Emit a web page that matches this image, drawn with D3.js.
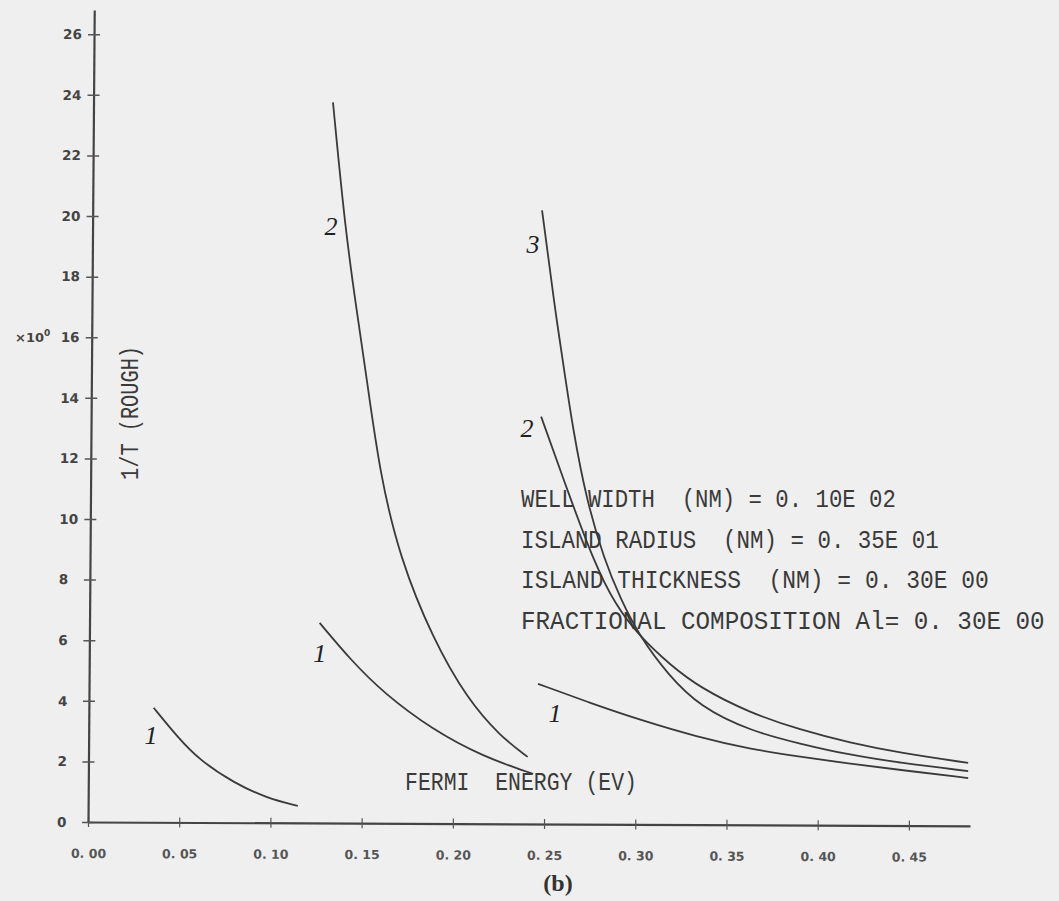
<!DOCTYPE html>
<html>
<head>
<meta charset="utf-8">
<script src="https://cdn.jsdelivr.net/npm/d3@7"></script>
<style>
  body { margin: 0; background: #efefef; }
  svg { display: block; }
  .plot { font-family: "Liberation Mono", "DejaVu Sans Mono", monospace; fill: #3a3a3a; }
</style>
</head>
<body>
<div id="chart"></div>
<script>
// axis ticks
var energyTicks = [0, 0.05, 0.10, 0.15, 0.20, 0.25, 0.30, 0.35, 0.40, 0.45];
var energyTickLabels = ["0. 00", "0. 05", "0. 10", "0. 15", "0. 20", "0. 25", "0. 30", "0. 35", "0. 40", "0. 45"];
var invTTicks = [0, 2, 4, 6, 8, 10, 12, 14, 16, 18, 20, 22, 24, 26];

// curve "1" (first group)
var leftOneE = [0.036, 0.049, 0.061, 0.080, 0.098, 0.115];
var leftOneT = [3.77, 2.81, 2.05, 1.29, 0.79, 0.53];
// second group
var midOneE = [0.127, 0.144, 0.162, 0.189, 0.217, 0.241, 0.244];
var midOneT = [6.57, 5.35, 4.26, 3.04, 2.15, 1.65, 1.59];
var midTwoE = [0.1343, 0.1409, 0.1474, 0.1529, 0.160, 0.171, 0.189, 0.208, 0.226, 0.241];
var midTwoT = [23.75, 19.62, 16.82, 14.60, 11.5, 8.7, 6.05, 4.05, 2.83, 2.15];
// third group
var rightOneE = [0.2467, 0.2752, 0.3026, 0.3339, 0.3629, 0.3904, 0.4178, 0.4452, 0.4825];
var rightOneT = [4.56, 3.93, 3.37, 2.81, 2.41, 2.15, 1.92, 1.72, 1.45];
var rightTwoE = [0.2484, 0.2643, 0.2769, 0.2889, 0.3026, 0.3191, 0.3355, 0.3629, 0.3904, 0.4178, 0.4452, 0.4825];
var rightTwoT = [13.38, 10.70, 8.66, 7.17, 6.11, 5.19, 4.43, 3.60, 3.04, 2.61, 2.28, 1.95];
var rightThreeE = [0.2489, 0.2527, 0.2566, 0.2610, 0.2659, 0.2730, 0.2829, 0.2922, 0.3026, 0.3180, 0.3355, 0.3629, 0.3904, 0.4178, 0.4452, 0.4825];
var rightThreeT = [20.19, 18.47, 16.68, 14.93, 12.95, 10.70, 8.66, 7.33, 6.11, 4.86, 3.80, 3.01, 2.58, 2.21, 1.95, 1.68];

// curve numbers, placed in data units
var curveNames = ["1", "1", "2", "1", "2", "3"];
var nameE = [0.0345, 0.127, 0.1332, 0.256, 0.2407, 0.244];
var nameT = [2.87, 5.58, 19.69, 3.60, 13.02, 19.09];

var paramLines = [
    "WELL WIDTH  (NM) = 0. 10E 02",
    "ISLAND RADIUS  (NM) = 0. 35E 01",
    "ISLAND THICKNESS  (NM) = 0. 30E 00",
    "FRACTIONAL COMPOSITION Al= 0. 30E 00"
];
var paramWidths = [375, 418, 468, 524];

var svgWidth = 1059;
var svgHeight = 901;

var svg = d3.select("#chart")
    .append("svg")
    .attr("width", svgWidth)
    .attr("height", svgHeight);

svg.append("rect")
    .attr("width", svgWidth)
    .attr("height", svgHeight)
    .attr("fill", "#efefef");

var xScale = d3.scaleLinear().domain([0, 0.4835]).range([88, 970]);
var yScale = d3.scaleLinear().domain([0, 26.8]).range([822, 10]);

var plot = svg.append("g").attr("class", "plot");

var x0 = xScale(0), y0 = yScale(0);

// squeeze a plotter-style text to a given width
function fitText(sel, x, y, width) {
    sel.each(function() {
        var w = this.getComputedTextLength();
        d3.select(this).attr("transform", `translate(${x}, ${y}) scale(${width / w}, 1)`);
    });
}

// x axis (the plotter drew it slightly tilted)
var bottomAxis = d3.axisBottom(xScale)
    .tickValues(energyTicks)
    .tickFormat((d, i) => energyTickLabels[i])
    .tickSizeInner(5)
    .tickSizeOuter(0)
    .tickPadding(22);

var xAxis = plot.append("g")
    .attr("transform", `translate(${x0}, ${y0}) skewY(0.25) translate(${-x0}, 0)`)
    .call(bottomAxis);
xAxis.select(".domain").attr("stroke", "#444").attr("stroke-width", 2.2);
xAxis.selectAll(".tick line").attr("stroke", "#555").attr("stroke-width", 1.2).attr("y1", -5);
xAxis.selectAll(".tick text")
    .attr("font-family", "DejaVu Sans, sans-serif")
    .attr("font-size", 12.5)
    .attr("font-weight", "bold")
    .attr("fill", "#555");

// y axis
var leftAxis = d3.axisLeft(yScale)
    .tickValues(invTTicks)
    .tickSizeInner(6)
    .tickSizeOuter(0)
    .tickPadding(24);

var yAxis = plot.append("g")
    .attr("transform", `translate(${x0}, ${y0}) skewX(-0.44) translate(0, ${-y0})`)
    .call(leftAxis);
yAxis.select(".domain").attr("stroke", "#444").attr("stroke-width", 2.2);
yAxis.selectAll(".tick line").attr("stroke", "#555").attr("stroke-width", 1.5).attr("x2", 6).attr("x1", -6);
yAxis.selectAll(".tick text")
    .attr("text-anchor", "start")
    .attr("x", -31)
    .attr("font-family", "DejaVu Sans, sans-serif")
    .attr("font-size", 13.5)
    .attr("font-weight", "bold")
    .attr("fill", "#444");

// x10^0 multiplier next to 16
var mult = plot.append("text")
    .attr("x", 15)
    .attr("y", yScale(16) + 5)
    .attr("font-family", "DejaVu Sans, sans-serif")
    .attr("font-size", 13)
    .attr("font-weight", "bold")
    .attr("fill", "#444")
    .text("×10");
mult.append("tspan").attr("dy", -6).attr("font-size", 9).text("0");

// axis titles
plot.append("text")
    .attr("transform", `translate(138, ${yScale(13.5)}) rotate(-90)`)
    .attr("text-anchor", "middle")
    .attr("font-size", 25)
    .attr("textLength", 134)
    .attr("lengthAdjust", "spacingAndGlyphs")
    .text("1/T (ROUGH)");

plot.append("text")
    .attr("font-size", 25)
    .style("white-space", "pre")
    .text("FERMI  ENERGY (EV)")
    .call(fitText, 405, 790, 232);

// parameter block
plot.selectAll(".param")
    .data(paramLines)
    .enter()
    .append("text")
    .attr("class", "param")
    .attr("font-size", 26)
    .style("white-space", "pre")
    .text(d => d)
    .each(function(d, i) {
        d3.select(this).call(fitText, 521, 507 + i * 40.5, paramWidths[i]);
    });

// curves
var curves = [
    [leftOneE, leftOneT],
    [midOneE, midOneT],
    [midTwoE, midTwoT],
    [rightOneE, rightOneT],
    [rightTwoE, rightTwoT],
    [rightThreeE, rightThreeT]
];

var line = d3.line()
    .x(d => xScale(d[0]))
    .y(d => yScale(d[1]))
    .curve(d3.curveBasis);

plot.selectAll(".curve")
    .data(curves)
    .enter()
    .append("path")
    .attr("class", "curve")
    .attr("d", c => line(c[0].map((e, i) => [e, c[1][i]])))
    .attr("fill", "none")
    .attr("stroke", "#3a3a3a")
    .attr("stroke-width", 1.8);

// curve numbers
plot.selectAll(".cname")
    .data(curveNames)
    .enter()
    .append("text")
    .attr("class", "cname")
    .attr("x", (d, i) => xScale(nameE[i]))
    .attr("y", (d, i) => yScale(nameT[i]))
    .attr("dy", "0.35em")
    .attr("text-anchor", "middle")
    .attr("font-family", "Liberation Serif, serif")
    .attr("font-style", "italic")
    .attr("font-size", 26)
    .attr("fill", "#222")
    .text(d => d);

// panel tag
svg.append("text")
    .attr("x", 558)
    .attr("y", 891)
    .attr("text-anchor", "middle")
    .attr("font-family", "Liberation Serif, serif")
    .attr("font-weight", "bold")
    .attr("font-size", 24)
    .attr("fill", "#333")
    .text("(b)");
</script>
</body>
</html>
